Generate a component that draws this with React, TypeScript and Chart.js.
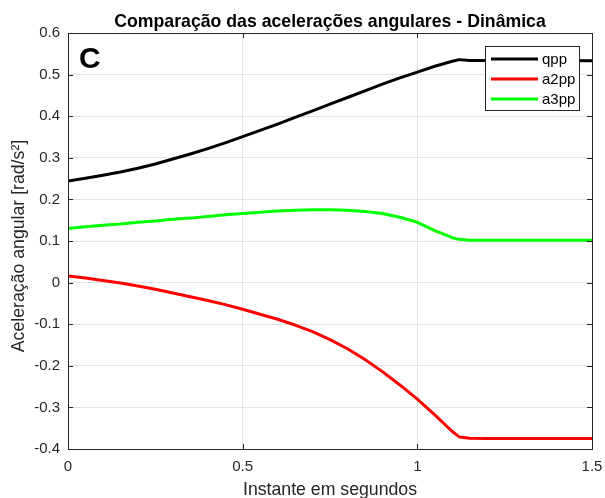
import React, { useEffect, useRef } from "react";
import { Chart, registerables } from "chart.js";

Chart.register(...registerables);

const titleText = "Comparação das acelerações angulares - Dinâmica";
const xAxisLabel = "Instante em segundos";
const yAxisLabel = "Aceleração angular [rad/s²]";
const panelLetter = "C";

const time = [0, 0.05, 0.1, 0.15, 0.2, 0.25, 0.3, 0.35, 0.4, 0.45, 0.5, 0.55, 0.6, 0.65, 0.7, 0.75, 0.8, 0.85, 0.9, 0.95, 1.0, 1.05, 1.1, 1.12, 1.15, 1.2, 1.3, 1.4, 1.5];
const qpp = [0.244, 0.251, 0.258, 0.266, 0.275, 0.285, 0.297, 0.309, 0.322, 0.336, 0.351, 0.366, 0.381, 0.397, 0.413, 0.429, 0.445, 0.461, 0.477, 0.492, 0.506, 0.520, 0.532, 0.536, 0.534, 0.534, 0.534, 0.534, 0.533];
const a2pp = [0.016, 0.011, 0.005, -0.001, -0.008, -0.016, -0.025, -0.034, -0.043, -0.053, -0.064, -0.076, -0.088, -0.102, -0.118, -0.137, -0.159, -0.185, -0.214, -0.246, -0.280, -0.318, -0.358, -0.371, -0.374, -0.375, -0.375, -0.375, -0.375];
const a3pp = [0.130, 0.134, 0.138, 0.141, 0.145, 0.148, 0.152, 0.155, 0.159, 0.163, 0.166, 0.169, 0.172, 0.174, 0.175, 0.175, 0.174, 0.171, 0.166, 0.157, 0.145, 0.125, 0.108, 0.104, 0.102, 0.102, 0.102, 0.102, 0.102];

const seriesNames = ["qpp", "a2pp", "a3pp"];
const seriesColors = ["#000000", "#ff0000", "#00ff00"];
const seriesValues = [qpp, a2pp, a3pp];

const FONT = "'Liberation Sans', Arial, Helvetica, sans-serif";
const AXIS_COLOR = "#262626";

const decorPlugin = {
  id: "decor",
  beforeDraw(chart: any) {
    const ctx = chart.ctx;
    ctx.save();
    ctx.fillStyle = "#ffffff";
    ctx.fillRect(0, 0, chart.width, chart.height);
    ctx.restore();
  },
  afterDraw(chart: any) {
    const ctx = chart.ctx;
    const a = chart.chartArea;
    const xs = chart.scales.x;
    const ys = chart.scales.y;
    ctx.save();
    // axes box
    ctx.strokeStyle = AXIS_COLOR;
    ctx.lineWidth = 1;
    ctx.strokeRect(Math.round(a.left) + 0.5, Math.round(a.top) + 0.5, Math.round(a.right - a.left), Math.round(a.bottom - a.top));
    // inward ticks
    const tl = 5;
    ctx.beginPath();
    xs.ticks.forEach((t: any) => {
      const px = Math.round(xs.getPixelForValue(t.value)) + 0.5;
      ctx.moveTo(px, a.bottom);
      ctx.lineTo(px, a.bottom - tl);
      ctx.moveTo(px, a.top);
      ctx.lineTo(px, a.top + tl);
    });
    ys.ticks.forEach((t: any) => {
      const py = Math.round(ys.getPixelForValue(t.value)) + 0.5;
      ctx.moveTo(a.left, py);
      ctx.lineTo(a.left + tl, py);
      ctx.moveTo(a.right, py);
      ctx.lineTo(a.right - tl, py);
    });
    ctx.stroke();

    // title
    ctx.fillStyle = "#000000";
    ctx.font = `bold 17.7px ${FONT}`;
    ctx.textAlign = "center";
    ctx.textBaseline = "alphabetic";
    ctx.fillText(titleText, (a.left + a.right) / 2, 27);

    // axis labels
    ctx.fillStyle = AXIS_COLOR;
    ctx.font = `17.7px ${FONT}`;
    ctx.fillText(xAxisLabel, (a.left + a.right) / 2, 495);
    ctx.save();
    ctx.translate(24, (a.top + a.bottom) / 2 + 5);
    ctx.rotate(-Math.PI / 2);
    ctx.fillText(yAxisLabel, 0, 0);
    ctx.restore();

    // panel letter
    ctx.fillStyle = "#000000";
    ctx.font = `bold 30px ${FONT}`;
    ctx.textAlign = "left";
    ctx.fillText(panelLetter, 79, 68);

    // legend
    const bx = 485, by = 46, bw = 94, bh = 64;
    ctx.fillStyle = "#ffffff";
    ctx.fillRect(bx, by, bw, bh);
    ctx.strokeStyle = AXIS_COLOR;
    ctx.lineWidth = 1;
    ctx.strokeRect(bx + 0.5, by + 0.5, bw, bh);
    ctx.font = `15px ${FONT}`;
    ctx.textBaseline = "middle";
    seriesNames.forEach((name, i) => {
      const yy = 59 + i * 20;
      ctx.strokeStyle = seriesColors[i];
      ctx.lineWidth = 3;
      ctx.beginPath();
      ctx.moveTo(491, yy);
      ctx.lineTo(538, yy);
      ctx.stroke();
      ctx.fillStyle = "#000000";
      ctx.fillText(name, 542, yy + 1);
    });
    ctx.restore();
  },
};

export default function App() {
  const canvasRef = useRef<HTMLCanvasElement | null>(null);

  useEffect(() => {
    if (!canvasRef.current) return;
    const datasets = seriesNames.map((name, i) => ({
      label: name,
      data: time.map((t, j) => ({ x: t, y: seriesValues[i][j] })),
      borderColor: seriesColors[i],
      backgroundColor: seriesColors[i],
      borderWidth: 3,
      pointRadius: 0,
      tension: 0,
      borderJoinStyle: "round" as const,
      fill: false,
    }));
    const chart = new Chart(canvasRef.current, {
      type: "line",
      data: { datasets },
      options: {
        animation: false,
        responsive: false,
        maintainAspectRatio: false,
        layout: { padding: { top: 33, right: 13, left: 0, bottom: 0 } },
        plugins: {
          legend: { display: false },
          title: { display: false },
          tooltip: { enabled: false },
        },
        scales: {
          x: {
            type: "linear",
            min: 0,
            max: 1.5,
            offset: false,
            ticks: {
              stepSize: 0.5,
              padding: 9,
              color: AXIS_COLOR,
              font: { family: FONT, size: 15 },
              maxRotation: 0,
              callback: (v: any) => String(parseFloat(Number(v).toFixed(1))),
            },
            grid: { color: "#e3e3e3", drawTicks: false },
            border: { display: false },
            afterFit: (s: any) => {
              s.height = 49;
              s.paddingLeft = 0;
              s.paddingRight = 0;
            },
          },
          y: {
            type: "linear",
            min: -0.4,
            max: 0.6,
            ticks: {
              stepSize: 0.1,
              padding: 8,
              color: AXIS_COLOR,
              font: { family: FONT, size: 15 },
              callback: (v: any) => String(parseFloat(Number(v).toFixed(1))),
            },
            grid: { color: "#e3e3e3", drawTicks: false },
            border: { display: false },
            afterFit: (s: any) => {
              s.width = 68;
              s.paddingTop = 0;
              s.paddingBottom = 0;
            },
          },
        },
      },
      plugins: [decorPlugin],
    });
    return () => chart.destroy();
  }, []);

  return (
    <div style={{ position: "fixed", left: 0, top: 0, width: 605, height: 498, background: "#fff" }}>
      <canvas ref={canvasRef} width={605} height={498} style={{ display: "block" }} />
    </div>
  );
}
